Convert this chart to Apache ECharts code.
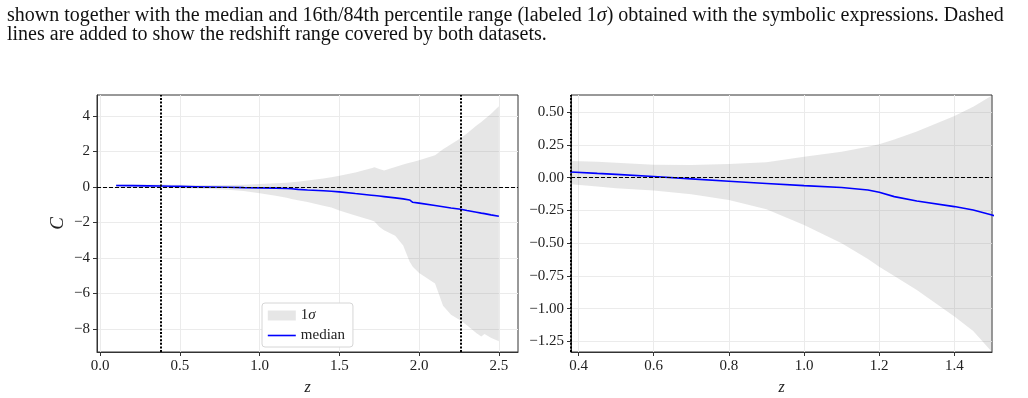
<!DOCTYPE html>
<html>
<head>
<meta charset="utf-8">
<script src="https://cdn.jsdelivr.net/npm/echarts@6/dist/echarts.min.js"></script>
<style>
  html, body { margin: 0; padding: 0; background: #fff; }
  #chart { width: 1028px; height: 398px; }
</style>
</head>
<body>
<div id="chart"></div>
<script>
// redshift grid and percentiles of C
const zVals = [0.10, 0.20, 0.30, 0.38, 0.45, 0.50, 0.60, 0.70, 0.80, 0.90, 1.00, 1.10, 1.17, 1.20, 1.24, 1.30, 1.40, 1.45, 1.50, 1.60, 1.70, 1.72, 1.75, 1.78, 1.85, 1.90, 1.94, 1.96, 2.00, 2.10, 2.15, 2.20, 2.26, 2.30, 2.36, 2.39, 2.41, 2.45, 2.50];
const medianVals = [0.075, 0.068, 0.055, 0.043, 0.032, 0.025, 0.008, -0.010, -0.028, -0.045, -0.061, -0.076, -0.094, -0.112, -0.145, -0.178, -0.221, -0.247, -0.285, -0.38, -0.47, -0.49, -0.52, -0.55, -0.62, -0.68, -0.74, -0.87, -0.92, -1.05, -1.12, -1.19, -1.26, -1.33, -1.43, -1.48, -1.51, -1.58, -1.66];
const lowerVals = [-0.035, -0.040, -0.045, -0.051, -0.068, -0.081, -0.099, -0.127, -0.170, -0.242, -0.361, -0.50, -0.62, -0.68, -0.75, -0.857, -1.06, -1.17, -1.33, -1.62, -1.88, -1.95, -2.25, -2.45, -2.75, -3.3, -4.2, -4.5, -4.85, -5.45, -6.7, -7.2, -7.53, -7.8, -8.25, -8.43, -8.28, -8.5, -8.70];
const upperVals = [0.135, 0.133, 0.130, 0.127, 0.120, 0.114, 0.099, 0.097, 0.104, 0.117, 0.160, 0.198, 0.235, 0.254, 0.29, 0.351, 0.47, 0.54, 0.626, 0.80, 1.05, 1.10, 1.00, 0.92, 1.12, 1.25, 1.35, 1.40, 1.50, 1.78, 2.12, 2.40, 2.74, 3.00, 3.45, 3.65, 3.80, 4.10, 4.54];

// dataset redshift limits (dotted lines)
const zLimits = [0.38, 2.26];

// tick labels
const leftXTicks = [0.0, 0.5, 1.0, 1.5, 2.0, 2.5];
const leftYTicks = [-8, -6, -4, -2, 0, 2, 4];
const rightXTicks = [0.4, 0.6, 0.8, 1.0, 1.2, 1.4];
const rightYTicks = [-1.25, -1.00, -0.75, -0.50, -0.25, 0.00, 0.25, 0.50];

const captionLines = [
  'shown together with the median and 16th/84th percentile range (labeled 1{i|σ}) obtained with the symbolic expressions. Dashed',
  'lines are added to show the redshift range covered by both datasets.'
];

const SERIF = "'Liberation Serif', 'DejaVu Serif', serif";
const INK = '#222';

const fmt = (d) => (v) => (v < 0 ? '\u2212' : '') + Math.abs(v).toFixed(d);

function axis(gridIndex, min, max, ticks, digits, extra) {
  return Object.assign({
    type: 'value',
    gridIndex,
    min, max,
    axisLine: { show: true, onZero: false, lineStyle: { color: '#333', width: 1 } },
    axisTick: { show: true, length: 4, customValues: ticks, lineStyle: { color: '#333' } },
    axisLabel: {
      customValues: ticks,
      formatter: fmt(digits),
      color: INK, fontFamily: SERIF, fontSize: 15, margin: 7
    },
    splitLine: { show: true, lineStyle: { color: '#ebebeb', width: 1 } }
  }, extra);
}

const pairs = (ys) => zVals.map((z, i) => [z, ys[i]]);
const bandData = zVals.map((z, i) => [z, lowerVals[i], upperVals[i]]);

// whole 1-sigma band as one polygon, drawn once through the axis scales
function renderBand(params, api) {
  if (params.dataIndexInside !== 0) return;
  const n = params.dataInsideLength;
  const top = [], bottom = [];
  for (let i = 0; i < n; i++) {
    const z = api.value(0, i);
    top.push(api.coord([z, api.value(2, i)]));
    bottom.push(api.coord([z, api.value(1, i)]));
  }
  return {
    type: 'polygon',
    shape: { points: top.concat(bottom.reverse()) },
    style: { fill: 'rgba(128,128,128,0.2)' }
  };
}

function panelSeries(idx, limits) {
  return [
    {
      name: '1σ', type: 'custom', xAxisIndex: idx, yAxisIndex: idx,
      data: bandData, encode: { x: 0, y: [1, 2] },
      renderItem: renderBand, clip: true, silent: true, z: 1,
      itemStyle: { color: '#e6e6e6' }
    },
    {
      name: 'median', type: 'line', xAxisIndex: idx, yAxisIndex: idx,
      data: pairs(medianVals), symbol: 'none', showSymbol: false,
      lineStyle: { color: '#0000ff', width: 1.6 },
      itemStyle: { color: '#0000ff' }, z: 3
    },
    {
      name: 'refs' + idx, type: 'line', xAxisIndex: idx, yAxisIndex: idx,
      data: [], z: 4,
      markLine: {
        silent: true, symbol: 'none', animation: false,
        label: { show: false },
        data: [
          { yAxis: 0, lineStyle: { color: '#000', width: 1, type: [4, 2] } }
        ].concat(limits.map(v => ({ xAxis: v, lineStyle: { color: '#000', width: 2, type: [2, 1.6] } })))
      }
    }
  ];
}

const chart = echarts.init(document.getElementById('chart'), null, { renderer: 'canvas' });

chart.setOption({
  animation: false,
  backgroundColor: '#fff',
  graphic: captionLines.map((t, i) => ({
    type: 'text', left: 7, top: 6 + i * 18.5,
    style: {
      text: t, fill: '#111', font: '20px ' + SERIF,
      rich: { i: { fontStyle: 'italic', fontFamily: SERIF, fontSize: 20, fill: '#111' } }
    }
  })),
  legend: {
    data: [
      { name: '1σ', icon: 'rect', itemStyle: { color: '#e6e6e6', borderWidth: 0 } },
      { name: 'median', itemStyle: { opacity: 0 }, lineStyle: { color: '#0000ff', width: 1.6 } }
    ],
    orient: 'vertical', left: 262, top: 303,
    padding: [5, 8, 4, 5], itemGap: 5, itemWidth: 28, itemHeight: 10,
    backgroundColor: '#fff', borderColor: '#d6d6d6', borderWidth: 1, borderRadius: 3,
    selectedMode: false,
    formatter: (n) => n === '1σ' ? '1{i|σ}' : n,
    textStyle: {
      color: INK, fontFamily: SERIF, fontSize: 15,
      rich: { i: { fontStyle: 'italic', fontFamily: SERIF, fontSize: 15, color: INK } }
    }
  },
  grid: [
    { left: 97, top: 95, width: 421, height: 257, outerBoundsMode: 'none', show: true, borderColor: '#333', borderWidth: 1, backgroundColor: 'transparent' },
    { left: 571, top: 95, width: 421, height: 257, outerBoundsMode: 'none', show: true, borderColor: '#333', borderWidth: 1, backgroundColor: 'transparent' }
  ],
  xAxis: [
    axis(0, -0.02, 2.62, leftXTicks, 1, {
      name: 'z', nameLocation: 'middle', nameGap: 28,
      nameTextStyle: { fontFamily: SERIF, fontStyle: 'italic', fontSize: 16, color: INK }
    }),
    axis(1, 0.38, 1.5, rightXTicks, 1, {
      name: 'z', nameLocation: 'middle', nameGap: 28,
      nameTextStyle: { fontFamily: SERIF, fontStyle: 'italic', fontSize: 16, color: INK }
    })
  ],
  yAxis: [
    axis(0, -9.3, 5.17, leftYTicks, 0, {
      name: 'C', nameLocation: 'middle', nameGap: 30, nameRotate: 90,
      nameTextStyle: { fontFamily: SERIF, fontStyle: 'italic', fontSize: 19, color: INK }
    }),
    axis(1, -1.33, 0.63, rightYTicks, 2)
  ],
  series: [].concat(panelSeries(0, zLimits), panelSeries(1, [zLimits[0]]))
});
</script>
</body>
</html>
